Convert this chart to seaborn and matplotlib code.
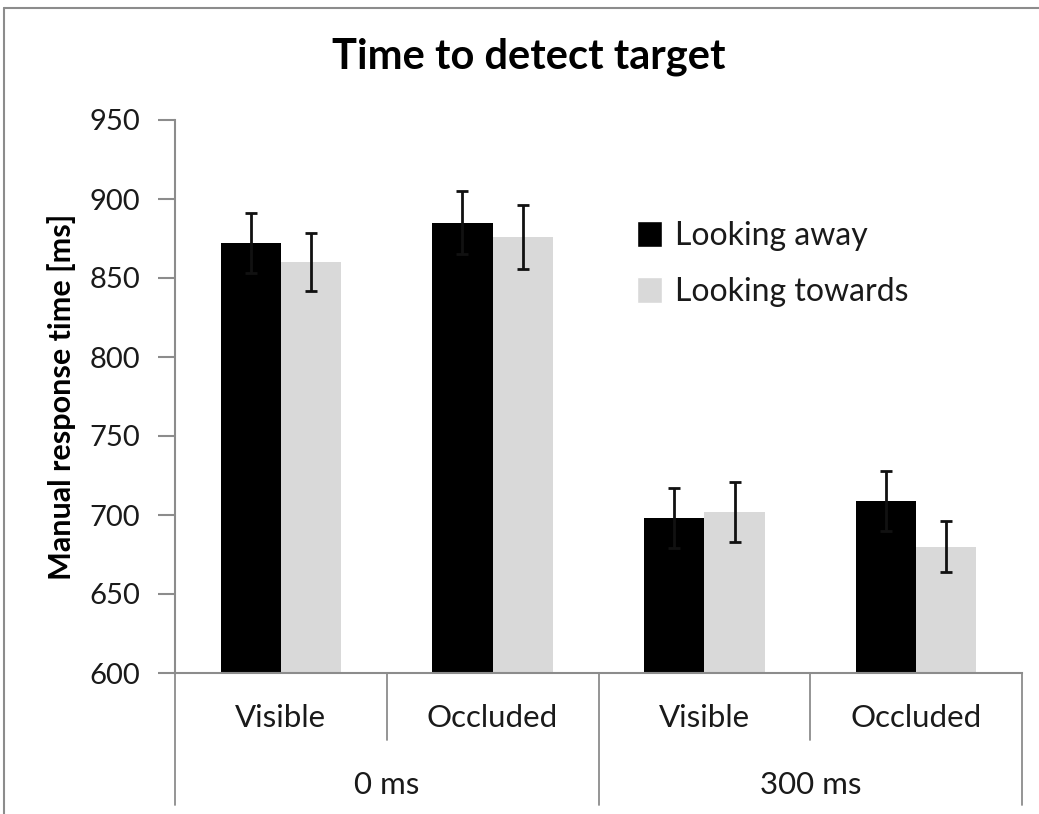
import matplotlib
matplotlib.use("Agg")
import matplotlib.pyplot as plt
from matplotlib.lines import Line2D
import seaborn as sns
import pandas as pd

# ---- data ----
delays = ["0 ms", "0 ms", "300 ms", "300 ms"]
visibility = ["Visible", "Occluded", "Visible", "Occluded"]
series = ["Looking away", "Looking towards"]
looking_away = [872, 885, 698, 709]
looking_towards = [860, 876, 702, 680]
err_away = [19, 20, 19, 19]
err_towards = [18.5, 20.5, 19, 16]
yticks = [600, 650, 700, 750, 800, 850, 900, 950]
colors = ["#000000", "#d9d9d9"]
title = "Time to detect target"
ylabel = "Manual response time [ms]"

sns.set_theme(style="white")
plt.rcParams["font.family"] = ["Lato", "DejaVu Sans"]

conds = [f"{d}|{v}" for d, v in zip(delays, visibility)]
df = pd.DataFrame({
    "cond": conds * 2,
    "series": [series[0]] * 4 + [series[1]] * 4,
    "rt": looking_away + looking_towards,
    "err": err_away + err_towards,
})

fig = plt.figure(figsize=(10.39, 8.14), dpi=100)
ax = fig.add_axes([175 / 1039, 1 - 673 / 814, (1022 - 175) / 1039, (673 - 120) / 814])

sns.barplot(data=df, x="cond", y="rt", hue="series", order=conds,
            hue_order=series, palette=colors, width=0.57, gap=0,
            saturation=1, errorbar=None, ax=ax, legend=True)

# error bars from bar positions
errs = [err_away, err_towards]
for cont, e in zip(ax.containers, errs):
    for patch, ev in zip(cont.patches, e):
        xc = patch.get_x() + patch.get_width() / 2
        ax.errorbar(xc, patch.get_height(), yerr=ev, fmt="none", ecolor="#111111",
                    elinewidth=2, capsize=4.5, capthick=2, zorder=5)
    for patch in cont.patches:
        patch.set_edgecolor("none")

ax.set_ylim(600, 950)
ax.set_xlim(-0.5, 3.5)
ax.set_yticks(yticks)
ax.set_yticklabels([str(t) for t in yticks], fontsize=21, color="#1a1a1a")
ax.tick_params(axis="y", direction="out", length=12, width=1.5, color="#8c8c8c", pad=13, left=True)
ax.set_xticks([])
ax.set_xlabel("")
ax.set_ylabel(ylabel, fontsize=22, fontweight="bold", labelpad=10, color="black")
for s in ["top", "right"]:
    ax.spines[s].set_visible(False)
for s in ["left", "bottom"]:
    ax.spines[s].set_color("#8c8c8c")
    ax.spines[s].set_linewidth(1.5)

# multi-level category axis
trans = ax.get_xaxis_transform()
for i, v in enumerate(visibility):
    ax.text(i, -0.081, v, transform=trans, ha="center", va="center", fontsize=22.5, color="#1a1a1a")
for x0 in [0.5, 2.5]:
    ax.add_line(Line2D([x0, x0], [0, -0.121], transform=trans, color="#8c8c8c", lw=1.3, clip_on=False))
for x0 in [-0.5, 1.5, 3.5]:
    ax.add_line(Line2D([x0, x0], [0, -0.239], transform=trans, color="#8c8c8c", lw=1.3, clip_on=False))
groups = []
for i, d in enumerate(delays):
    if d not in groups:
        groups.append(d)
for g in groups:
    idx = [i for i, d in enumerate(delays) if d == g]
    ax.text(sum(idx) / len(idx), -0.2025, g, transform=trans, ha="center", va="center",
            fontsize=22.5, color="#1a1a1a")

# legend
handles, labels = ax.get_legend_handles_labels()
ax.legend_.remove()
fig.legend(handles, labels, loc="upper left", bbox_to_anchor=(608 / 1039, 1 - 192 / 814),
           frameon=False, fontsize=23, labelspacing=0.8, handlelength=0.8, handleheight=0.9,
           handletextpad=0.4, labelcolor="#1a1a1a")

fig.text(529 / 1039, 1 - 57 / 814, title, ha="center", va="center", fontsize=30,
         fontweight="bold", color="black")

# outer frame (top and left visible)
fig.add_artist(Line2D([4 / 1039, 1], [1 - 8 / 814, 1 - 8 / 814], transform=fig.transFigure, color="#8c8c8c", lw=1.5))
fig.add_artist(Line2D([4 / 1039, 4 / 1039], [0, 1 - 8 / 814], transform=fig.transFigure, color="#8c8c8c", lw=1.5))

fig.savefig("out.png", dpi=100)
